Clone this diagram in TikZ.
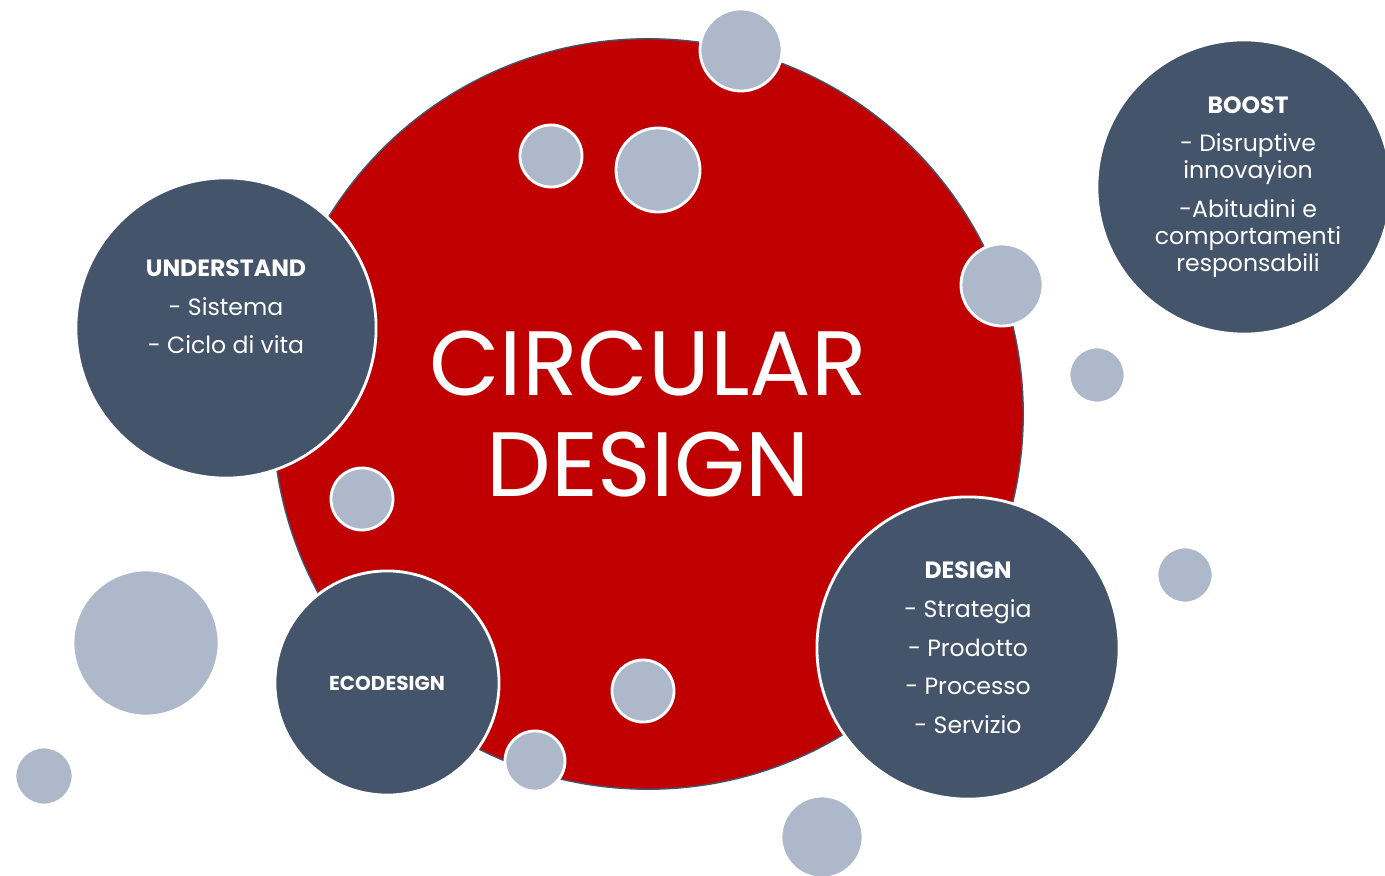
\documentclass[tikz,border=0pt]{standalone}
\usepackage{fontspec}
\setmainfont{Poppins}
\definecolor{cdred}{HTML}{C00000}
\definecolor{slate}{HTML}{44546A}
\definecolor{mist}{HTML}{ADB9CA}

\begin{document}
\begin{tikzpicture}[
  x=0.01cm,
  y=-0.01cm,
  core/.style={circle, fill=cdred, draw=slate, line width=0.4pt, inner sep=0pt},
  keydisc/.style={circle, fill=slate, draw=white, line width=0.8pt, inner sep=0pt},
  bubble/.style={circle, fill=mist, draw=white, line width=0.8pt, inner sep=0pt},
  keytext/.style={text=white, align=center, font=\fontsize{6.7}{7.7}\selectfont},
  headline/.style={text=white, align=center, font=\fontsize{26}{28.5}\selectfont}
  ]
    % page
    \useasboundingbox[fill=white] (0,0) rectangle (1385,876);

    % red centre
    \node[core, minimum size=7.5cm] (circular) at (648,414) {};
    \node[headline] (circular-txt) at (circular) {CIRCULAR\\DESIGN};

    % the four key discs
    \node[keydisc, minimum size=3.0cm] (understand) at (226,328) {};
    \node[keydisc, minimum size=2.94cm] (boost) at (1244,187) {};
    \node[keydisc, minimum size=3.02cm] (design) at (968,648) {};
    \node[keydisc, minimum size=2.24cm] (ecodesign) at (387,683) {};

    \node[keytext, yshift=0.21cm] (understand-txt) at (understand)
      {\textbf{UNDERSTAND}\\[3.3pt] - Sistema\\[3.3pt] - Ciclo di vita};
    \node[keytext, xshift=0.04cm] (boost-txt) at (boost)
      {\textbf{BOOST}\\[3.3pt] - Disruptive\\innovayion\\[3.3pt] -Abitudini e\\comportamenti\\responsabili};
    \node[keytext] (design-txt) at (design)
      {\textbf{DESIGN}\\[3.3pt] - Strategia\\[3.3pt] - Prodotto\\[3.3pt] - Processo\\[3.3pt] - Servizio};
    \node[keytext, font=\fontsize{5.7}{7}\selectfont] (ecodesign-txt) at (ecodesign) {\textbf{ECODESIGN}};

    % small bubbles
    \node[bubble, minimum size=0.82cm] (b1) at (741,50) {};
    \node[bubble, minimum size=0.62cm] (b2) at (551,156) {};
    \node[bubble, minimum size=0.84cm] (b3) at (658,170) {};
    \node[bubble, minimum size=0.82cm] (b4) at (1002,285) {};
    \node[bubble, minimum size=0.56cm] (b5) at (1097,375) {};
    \node[bubble, minimum size=0.62cm] (b6) at (362,499) {};
    \node[bubble, minimum size=1.46cm] (b7) at (146,643) {};
    \node[bubble, minimum size=0.58cm] (b8) at (44,776) {};
    \node[bubble, minimum size=0.62cm] (b9) at (643,691) {};
    \node[bubble, minimum size=0.60cm] (b10) at (535,761) {};
    \node[bubble, minimum size=0.82cm] (b11) at (822,837) {};
    \node[bubble, minimum size=0.56cm] (b12) at (1185,575) {};

\end{tikzpicture}
\end{document}
